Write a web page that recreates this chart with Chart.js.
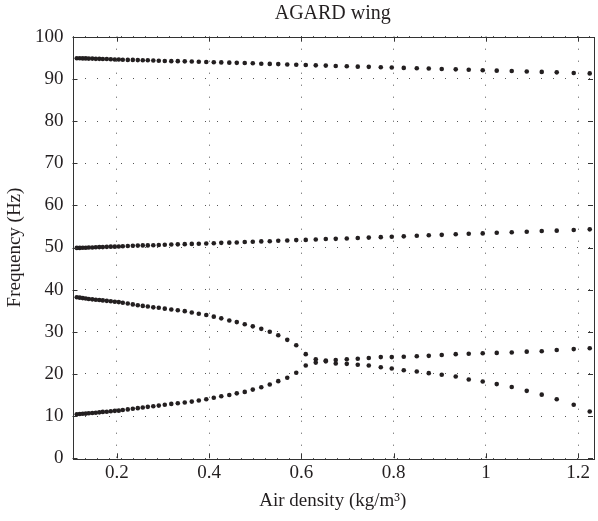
<!DOCTYPE html>
<html>
<head>
<meta charset="utf-8">
<script src="https://cdn.jsdelivr.net/npm/chart.js@4/dist/chart.umd.min.js"></script>
<style>
  html, body { margin: 0; padding: 0; background: #fff; }
  #wrap { width: 598px; height: 521px; }
</style>
</head>
<body>
<div id="wrap"><canvas id="c" width="598" height="521"></canvas></div>
<script>
// Air density samples (kg/m^3)
const airDensity = [
  0.1133, 0.1198, 0.1263, 0.1328, 0.1393, 0.1469, 0.1545, 0.1621, 0.1697, 0.1783,
  0.1870, 0.1957, 0.2043, 0.2130, 0.2238, 0.2347, 0.2455, 0.2563, 0.2672, 0.2791,
  0.2910, 0.3040, 0.3181, 0.3322, 0.3473, 0.3625, 0.3777, 0.3939, 0.4102, 0.4264,
  0.4438, 0.4600, 0.4773, 0.4947, 0.5131, 0.5315, 0.5499, 0.5694, 0.5889, 0.6095,
  0.6312, 0.6529, 0.6745, 0.6984, 0.7222, 0.7461, 0.7721, 0.7959, 0.8219, 0.8501,
  0.8761, 0.9042, 0.9345, 0.9627, 0.9930, 1.0234, 1.0559, 1.0884, 1.1209, 1.1534,
  1.1902, 1.2249
];
// Frequency of mode near 95 Hz
const mode4 = [
  94.9, 94.9, 94.85, 94.85, 94.8, 94.8, 94.75, 94.75, 94.7, 94.7,
  94.65, 94.6, 94.6, 94.55, 94.5, 94.5, 94.45, 94.4, 94.4, 94.35,
  94.3, 94.25, 94.2, 94.2, 94.15, 94.1, 94.05, 94.0, 93.95, 93.9,
  93.85, 93.8, 93.75, 93.7, 93.6, 93.55, 93.5, 93.4, 93.35, 93.3,
  93.2, 93.15, 93.05, 93.0, 92.9, 92.85, 92.75, 92.7, 92.6, 92.5,
  92.45, 92.35, 92.25, 92.15, 92.05, 91.95, 91.85, 91.75, 91.65, 91.55,
  91.4, 91.3
];
// Frequency of mode near 50 Hz
const mode3 = [
  49.9, 49.9, 49.95, 49.95, 50.0, 50.0, 50.05, 50.1, 50.1, 50.15,
  50.2, 50.2, 50.25, 50.3, 50.35, 50.4, 50.45, 50.5, 50.5, 50.55,
  50.6, 50.65, 50.7, 50.75, 50.8, 50.85, 50.9, 50.95, 51.0, 51.1,
  51.15, 51.2, 51.3, 51.35, 51.45, 51.5, 51.6, 51.65, 51.75, 51.8,
  51.9, 52.0, 52.05, 52.15, 52.25, 52.35, 52.45, 52.55, 52.65, 52.8,
  52.9, 53.0, 53.15, 53.25, 53.35, 53.5, 53.6, 53.75, 53.9, 54.0,
  54.15, 54.3
];
// Frequency of mode starting near 38 Hz
const mode2 = [
  38.2, 38.1, 38.0, 37.9, 37.8, 37.7, 37.6, 37.55, 37.45, 37.35,
  37.25, 37.15, 37.05, 36.9, 36.7, 36.5, 36.3, 36.15, 36.0, 35.8,
  35.7, 35.5, 35.3, 35.1, 34.9, 34.6, 34.3, 34.0, 33.6, 33.2,
  32.7, 32.3, 31.8, 31.3, 30.7, 30.0, 29.2, 28.1, 26.8, 24.7,
  23.5, 23.2, 23.3, 23.5, 23.6, 23.8, 24.0, 24.0, 24.1, 24.2,
  24.3, 24.5, 24.7, 24.8, 24.9, 25.0, 25.1, 25.3, 25.4, 25.7,
  25.9, 26.1
];
// Frequency of mode starting near 10 Hz
const mode1 = [
  10.45, 10.5, 10.55, 10.6, 10.7, 10.75, 10.8, 10.9, 11.0, 11.05,
  11.15, 11.25, 11.3, 11.45, 11.6, 11.75, 11.9, 12.05, 12.2, 12.35,
  12.5, 12.7, 12.9, 13.05, 13.25, 13.45, 13.7, 14.0, 14.35, 14.7,
  15.0, 15.4, 15.75, 16.3, 16.85, 17.5, 18.3, 19.1, 20.3, 22.0,
  22.7, 23.0, 22.5, 22.4, 22.2, 22.0, 21.6, 21.3, 20.9, 20.6,
  20.2, 19.8, 19.4, 18.7, 18.2, 17.6, 16.9, 16.0, 15.1, 14.0,
  12.7, 11.1
];
const xTicks = [0.2, 0.4, 0.6, 0.8, 1.0, 1.2];
const xTickLabels = ['0.2', '0.4', '0.6', '0.8', '1', '1.2'];
const yTicks = [0, 10, 20, 30, 40, 50, 60, 70, 80, 90, 100];
const yTickLabels = ['0', '10', '20', '30', '40', '50', '60', '70', '80', '90', '100'];
const titleText = 'AGARD wing';
const xTitle = 'Air density (kg/m\u00B3)';
const yTitle = 'Frequency (Hz)';

const FONT = '"Liberation Serif", "Times New Roman", serif';
const INK = '#231f20';

function pts(ys) { return airDensity.map((x, i) => ({ x: x, y: ys[i] })); }
const modes = [mode1, mode2, mode3, mode4];

const frame = {
  id: 'frame',
  afterDraw(chart) {
    const ctx = chart.ctx, a = chart.chartArea;
    const xs = chart.scales.x, ys = chart.scales.y;
    ctx.save();
    ctx.strokeStyle = '#333';
    ctx.lineWidth = 1;
    ctx.strokeRect(Math.round(a.left) + 0.5, Math.round(a.top) + 0.5,
                   Math.round(a.right - a.left), Math.round(a.bottom - a.top));
    ctx.beginPath();
    const L = 5;
    xs.ticks.forEach(t => {
      const px = Math.round(xs.getPixelForValue(t.value)) + 0.5;
      ctx.moveTo(px, a.bottom); ctx.lineTo(px, a.bottom - L);
      ctx.moveTo(px, a.top); ctx.lineTo(px, a.top + L);
    });
    ys.ticks.forEach(t => {
      const py = Math.round(ys.getPixelForValue(t.value)) + 0.5;
      ctx.moveTo(a.left, py); ctx.lineTo(a.left + L, py);
      ctx.moveTo(a.right, py); ctx.lineTo(a.right - L, py);
    });
    ctx.stroke();
    ctx.fillStyle = INK;
    ctx.font = '20px ' + FONT;
    ctx.textAlign = 'center';
    ctx.textBaseline = 'middle';
    ctx.fillText(titleText, (a.left + a.right) / 2, 14);
    ctx.restore();
  }
};

new Chart(document.getElementById('c'), {
  type: 'scatter',
  data: {
    datasets: modes.map((m, i) => ({
      label: 'mode ' + (i + 1),
      data: pts(m),
      showLine: false,
      clip: false,
      pointRadius: 2.3,
      pointHoverRadius: 2.3,
      pointBackgroundColor: INK,
      pointBorderWidth: 0,
      pointBorderColor: INK
    }))
  },
  options: {
    responsive: false,
    animation: false,
    devicePixelRatio: 1,
    layout: { padding: { top: 36.7, right: 5, left: 0, bottom: 0 } },
    plugins: { legend: { display: false }, tooltip: { enabled: false }, title: { display: false } },
    scales: {
      x: {
        type: 'linear',
        min: 0.104,
        max: 1.232,
        afterFit: s => { s.height = 62.7; },
        afterBuildTicks: s => { s.ticks = xTicks.map(v => ({ value: v })); },
        ticks: {
          color: INK,
          font: { family: FONT, size: 19 },
          padding: 3,
          maxRotation: 0,
          autoSkip: false,
          callback: (v) => { const i = xTicks.findIndex(t => Math.abs(t - v) < 1e-9); return i >= 0 ? xTickLabels[i] : ''; }
        },
        grid: { color: '#555', lineWidth: 1, drawTicks: false },
        border: { display: false, dash: [1, 11] },
        title: { display: true, text: xTitle, color: INK, font: { family: FONT, size: 19 }, padding: { top: 0, bottom: 9 } }
      },
      y: {
        type: 'linear',
        min: 0,
        max: 100,
        afterFit: s => { s.width = 72.5; },
        afterBuildTicks: s => { s.ticks = yTicks.map(v => ({ value: v })); },
        ticks: {
          color: INK,
          font: { family: FONT, size: 19 },
          padding: 9,
          autoSkip: false,
          callback: (v) => { const i = yTicks.indexOf(v); return i >= 0 ? yTickLabels[i] : ''; }
        },
        grid: { color: '#555', lineWidth: 1, drawTicks: false },
        border: { display: false, dash: [1, 11] },
        title: { display: true, text: yTitle, color: INK, font: { family: FONT, size: 19 }, padding: { top: 4, bottom: 0 } }
      }
    }
  },
  plugins: [frame]
});
</script>
</body>
</html>
